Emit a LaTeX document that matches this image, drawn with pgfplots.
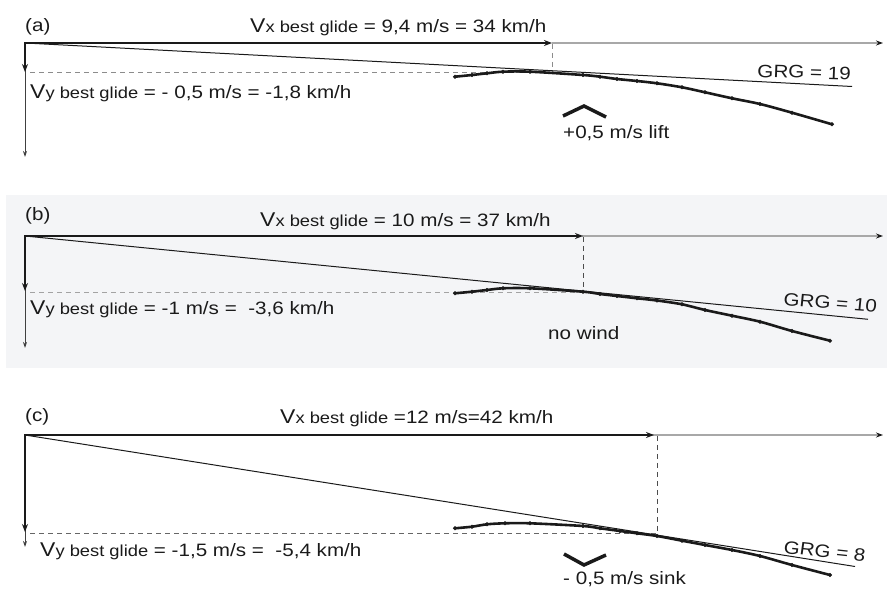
\documentclass[border=0pt]{standalone}
\usepackage{pgfplots}
\pgfplotsset{compat=1.18}
\usepackage{fontspec}
\setmainfont{Liberation Sans}
\usetikzlibrary{arrows.meta}
\definecolor{bgb}{HTML}{F4F5F7}
\definecolor{ink}{HTML}{1A1A1A}
\definecolor{axgray}{HTML}{A8A8A8}
\definecolor{dashgray}{HTML}{8C8C8C}
\newcommand{\VV}[1]{{\fontsize{20}{21}\selectfont V}{\fontsize{16}{17}\selectfont #1 best glide}}
\tikzset{lbl/.style={anchor=base west, inner sep=0pt, xscale=1.15, font=\fontsize{18}{21}\selectfont, text=ink}}
\pgfplotsset{polar/.style={ink, line width=2.6bp, smooth, mark=*, mark size=1.9bp, mark options={solid, line width=0.3bp}}}
\begin{document}
\begin{tikzpicture}
\begin{axis}[name=ax, hide axis, scale only axis, width=887bp, height=590bp,
  xmin=0, xmax=887, ymin=0, ymax=590, y dir=reverse, clip=false]
% panel b background
\addplot[fill=bgb, draw=none] coordinates {(6,195) (887,195) (887,368) (6,368)} --cycle;

% ================= panel (a) =================
\addplot[dashgray, line width=0.9bp, dash pattern=on 5bp off 4bp] coordinates {(30,72) (552,72)};
\addplot[dashgray, line width=0.9bp, dash pattern=on 5bp off 4bp] coordinates {(552,44) (552,72)};
\addplot[axgray, line width=1.3bp, -{Stealth[length=7bp,width=5bp,color=ink]}] coordinates {(552,43) (883,43)};
\addplot[black!75, line width=0.9bp, -{Stealth[length=6bp,width=4bp]}] coordinates {(25,43) (25,157)};
\addplot[ink, line width=2.2bp, -{Stealth[length=8bp,width=6bp]}] coordinates {(24,43) (552,43)};
\addplot[ink, line width=2.2bp, -{Stealth[length=8bp,width=6bp]}] coordinates {(25,43) (25,72)};
\addplot[ink, line width=1bp] coordinates {(25,43) (852,86.5)};
\addplot[polar] coordinates {
(455,76.7)(472,75)(487,73.3)(503,71.7)(530,71.7)(583,75)(600,76.7)(617,79)(637,81)(657,83.3)(682,87.3)(705,92.3)(732,98.3)(760,104)(792,112.7)(832,124.3)};
\addplot[ink, line width=3.5bp] coordinates {(563,116) (584,106) (606,117)};
\node[lbl] at (axis cs:25,32) {(a)};
\node[lbl] at (axis cs:250,33) {\VV{x} = 9,4 m/s = 34 km/h};
\node[lbl] at (axis cs:30,99) {\VV{y} = - 0,5 m/s = -1,8 km/h};
\node[lbl, rotate=-2] at (axis cs:757,77) {GRG = 19};
\node[lbl] at (axis cs:563,138.5) {+0,5 m/s lift};

% ================= panel (b) =================
\addplot[dashgray!80, line width=0.9bp, dash pattern=on 5bp off 4bp] coordinates {(30,292.7) (583,292.7)};
\addplot[black!70, line width=0.9bp, dash pattern=on 5bp off 4bp] coordinates {(583,237) (583,292)};
\addplot[axgray, line width=1.3bp, -{Stealth[length=7bp,width=5bp,color=ink]}] coordinates {(582,236) (883,236)};
\addplot[black!75, line width=0.9bp, -{Stealth[length=6bp,width=4bp]}] coordinates {(25,236) (25,348)};
\addplot[ink, line width=2.2bp, -{Stealth[length=8bp,width=6bp]}] coordinates {(24,236) (583,236)};
\addplot[ink, line width=2.2bp, -{Stealth[length=8bp,width=6bp]}] coordinates {(25,236) (25,291)};
\addplot[ink, line width=1bp] coordinates {(25,236) (868,319.3)};
\addplot[polar] coordinates {
(455,293.3)(472,291.7)(487,290)(503,288.3)(530,288.3)(583,291.7)(600,294)(617,296)(637,298.3)(657,300.5)(682,304.3)(705,310)(732,315.7)(760,321.7)(792,331)(830,340.7)};
\node[lbl] at (axis cs:25,221) {(b)};
\node[lbl] at (axis cs:260,226.5) {\VV{x} = 10 m/s = 37 km/h};
\node[lbl] at (axis cs:30,315) {\VV{y} = -1 m/s = \ -3,6 km/h};
\node[lbl, rotate=-5] at (axis cs:783,305) {GRG = 10};
\node[lbl] at (axis cs:548,340) {no wind};

% ================= panel (c) =================
\addplot[black!60, line width=0.9bp, dash pattern=on 5bp off 4bp] coordinates {(30,533.5) (657,533.5)};
\addplot[black!70, line width=0.9bp, dash pattern=on 5bp off 4bp] coordinates {(657,436) (657,535)};
\addplot[axgray, line width=1.3bp, -{Stealth[length=7bp,width=5bp,color=ink]}] coordinates {(652,435) (883,435)};
\addplot[black!75, line width=0.9bp, -{Stealth[length=6bp,width=4bp]}] coordinates {(25,435) (25,547)};
\addplot[ink, line width=2.2bp, -{Stealth[length=8bp,width=6bp]}] coordinates {(24,435) (654,435)};
\addplot[ink, line width=2.2bp, -{Stealth[length=8bp,width=6bp]}] coordinates {(25,435) (25,532)};
\addplot[ink, line width=1bp] coordinates {(25,435) (855,566.5)};
\addplot[polar] coordinates {
(455,528.3)(472,526.7)(487,524.3)(505,523.3)(530,523.3)(583,526)(600,528.3)(620,531)(637,533.3)(657,536)(682,540.7)(705,545)(732,550)(760,556)(792,565)(830,575)};
\addplot[ink, line width=3.5bp] coordinates {(564,554) (584,565) (606,555)};
\node[lbl] at (axis cs:25,422) {(c)};
\node[lbl] at (axis cs:280,423.3) {\VV{x} =12 m/s=42 km/h};
\node[lbl] at (axis cs:40,556.7) {\VV{y} = -1,5 m/s = \ -5,4 km/h};
\node[lbl, rotate=-7] at (axis cs:783,553) {GRG = 8};
\node[lbl] at (axis cs:563,584.5) {- 0,5 m/s sink};
\end{axis}
\pgfresetboundingbox
\path (ax.south west) rectangle (ax.north east);
\end{tikzpicture}
\end{document}
